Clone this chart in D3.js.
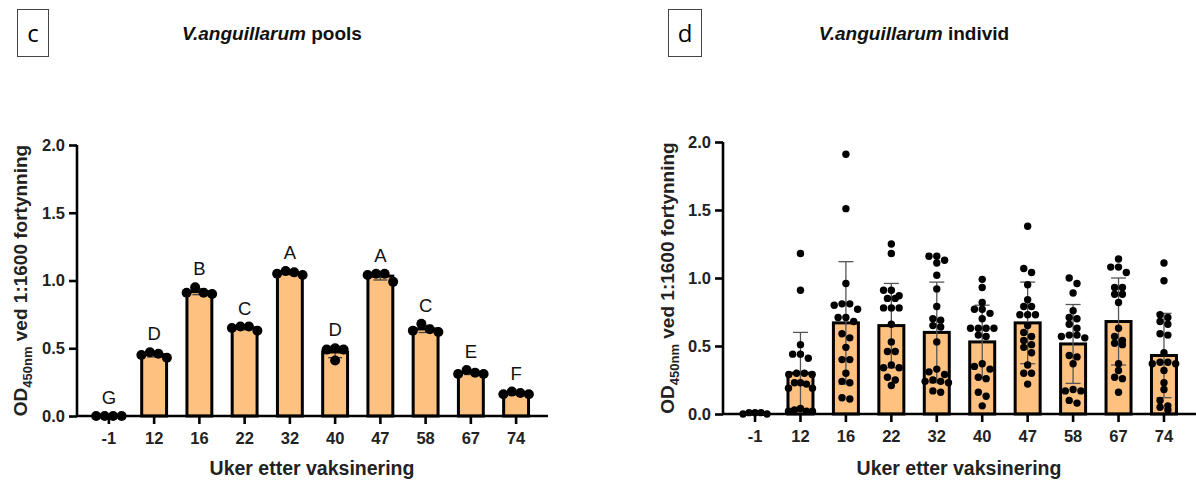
<!DOCTYPE html>
<html>
<head>
<meta charset="utf-8">
<script src="https://cdn.jsdelivr.net/npm/d3@7"></script>
<style>
  html, body { margin: 0; padding: 0; background: #fff; }
  svg { display: block; font-family: "Liberation Sans", Arial, sans-serif; }
</style>
</head>
<body>
<svg id="chart" width="1196" height="480"></svg>
<script>
// ---------------- DATA ----------------
const categories = ["-1", "12", "16", "22", "32", "40", "47", "58", "67", "74"];
const yTicks = [0, 0.5, 1.0, 1.5, 2.0];

// panel c: pooled samples (replicates) and significance letters
const poolLetters = ["G", "D", "B", "C", "A", "D", "A", "C", "E", "F"];
const poolValues = [
  [0.00, 0.00, 0.00, 0.00],
  [0.43, 0.45, 0.47, 0.46],
  [0.90, 0.91, 0.95, 0.91],
  [0.63, 0.65, 0.66, 0.66],
  [1.04, 1.07, 1.06, 1.05],
  [0.50, 0.49, 0.49, 0.41],
  [0.99, 1.04, 1.05, 1.05],
  [0.62, 0.68, 0.64, 0.63],
  [0.31, 0.34, 0.32, 0.31],
  [0.16, 0.18, 0.17, 0.16]
];

// panel d: individual fish
const indivValues = [
  [0.01, 0.00, 0.01, 0.00, 0.01],
  [1.18, 0.91, 0.51, 0.44, 0.44, 0.41, 0.30, 0.30, 0.29, 0.29, 0.23, 0.23, 0.22, 0.19, 0.19, 0.04, 0.03, 0.02, 0.02, 0.02],
  [1.91, 1.51, 0.96, 0.81, 0.81, 0.80, 0.77, 0.71, 0.71, 0.68, 0.59, 0.56, 0.49, 0.40, 0.40, 0.30, 0.24, 0.23, 0.12, 0.11],
  [1.25, 1.18, 0.91, 0.91, 0.87, 0.85, 0.85, 0.78, 0.78, 0.78, 0.66, 0.53, 0.46, 0.46, 0.36, 0.34, 0.34, 0.27, 0.25, 0.21],
  [1.16, 1.16, 1.13, 1.11, 1.02, 0.92, 0.79, 0.70, 0.69, 0.65, 0.64, 0.53, 0.31, 0.33, 0.29, 0.25, 0.24, 0.23, 0.24, 0.17, 0.16],
  [0.99, 0.93, 0.82, 0.77, 0.77, 0.74, 0.70, 0.63, 0.63, 0.63, 0.63, 0.57, 0.58, 0.37, 0.35, 0.33, 0.27, 0.26, 0.16, 0.13, 0.06],
  [1.38, 1.07, 1.04, 0.95, 0.84, 0.79, 0.79, 0.73, 0.73, 0.73, 0.65, 0.60, 0.57, 0.54, 0.51, 0.49, 0.45, 0.36, 0.30, 0.30, 0.22],
  [1.00, 0.96, 0.89, 0.76, 0.71, 0.70, 0.66, 0.63, 0.57, 0.56, 0.58, 0.58, 0.43, 0.42, 0.37, 0.18, 0.17, 0.17, 0.08, 0.10],
  [1.14, 1.08, 1.08, 1.04, 0.93, 0.93, 0.88, 0.88, 0.82, 0.63, 0.57, 0.54, 0.52, 0.51, 0.37, 0.32, 0.26, 0.27, 0.16],
  [1.11, 0.98, 0.73, 0.71, 0.66, 0.68, 0.59, 0.58, 0.45, 0.38, 0.37, 0.37, 0.38, 0.32, 0.23, 0.18, 0.10, 0.06, 0.05, 0.03]
];
const indivMean = [0.005, 0.30, 0.67, 0.65, 0.60, 0.53, 0.67, 0.515, 0.68, 0.43];
const indivSD   = [0.005, 0.30, 0.45, 0.31, 0.37, 0.27, 0.30, 0.29, 0.32, 0.31];

// ---------------- DRAWING ----------------
const svg = d3.select("#chart");
const FILL = "#FEC180";
const FONT = '"Liberation Sans", Arial, sans-serif';

// GraphPad-like scatter: points close in y form a row, spread symmetrically,
// highest values of a row in the middle
function swarm(vals, cx, y, spacing, rowGap, maxWidth) {
  const pts = vals.map(v => ({ v, py: y(v) })).sort((a, b) => a.py - b.py);
  const rows = [];
  pts.forEach(p => {
    const last = rows[rows.length - 1];
    if (last && p.py - last[0].py < rowGap) last.push(p);
    else rows.push([p]);
  });
  const out = [];
  rows.forEach(row => {
    const n = row.length;
    const sp = n > 1 ? Math.min(spacing, maxWidth / (n - 1)) : 0;
    const slots = d3.range(n).map(j => (j - (n - 1) / 2) * sp)
      .sort((a, b) => Math.abs(a) - Math.abs(b) || a - b);
    row.forEach((p, j) => out.push({ x: cx + slots[j], y: p.py }));
  });
  return out;
}

function panel(opt) {
  const g = svg.append("g");
  const x = d3.scaleBand().domain(categories).range(opt.xRange)
    .paddingInner(0.45).paddingOuter(0.43);
  const y = d3.scaleLinear().domain([0, 2]).range(opt.yRange);

  // bars
  g.append("g").selectAll("rect").data(categories).join("rect")
    .attr("x", d => x(d))
    .attr("width", x.bandwidth())
    .attr("y", (d, i) => y(opt.means[i]))
    .attr("height", (d, i) => y(0) - y(opt.means[i]))
    .attr("fill", FILL)
    .attr("stroke", "#000")
    .attr("stroke-width", 3);

  // error bars
  const eb = g.append("g").attr("stroke", opt.ebColor).attr("stroke-width", 1.3).attr("fill", "none");
  categories.forEach((c, i) => {
    const cx = x(c) + x.bandwidth() / 2;
    const hi = y(opt.means[i] + opt.sds[i]);
    const lo = y(Math.max(0, opt.means[i] - opt.sds[i]));
    eb.append("line").attr("x1", cx).attr("x2", cx).attr("y1", hi).attr("y2", lo);
    eb.append("line").attr("x1", cx - opt.cap).attr("x2", cx + opt.cap).attr("y1", hi).attr("y2", hi);
    eb.append("line").attr("x1", cx - opt.cap).attr("x2", cx + opt.cap).attr("y1", lo).attr("y2", lo);
  });

  // axes
  const yAxis = d3.axisLeft(y).tickValues(yTicks).tickFormat(d3.format(".1f")).tickSize(8).tickPadding(4);
  const ya = g.append("g").attr("transform", `translate(${opt.xRange[0]},0)`).call(yAxis);
  const xAxis = d3.axisBottom(x).tickSize(8).tickPadding(8);
  const xa = g.append("g").attr("transform", `translate(0,${y(0)})`).call(xAxis);
  [ya, xa].forEach(a => {
    a.select(".domain").attr("stroke", "#000").attr("stroke-width", 2.6);
    a.selectAll(".tick line").attr("stroke", "#000").attr("stroke-width", 2.6);
    a.selectAll(".tick text").attr("font-family", FONT).attr("font-size", 16.5)
      .attr("font-weight", "bold").attr("fill", "#222");
  });
  ya.select(".domain").attr("d", `M0,${y(0)}V${y(2)}`);
  xa.select(".domain").attr("d", `M${opt.xRange[0]},0H${opt.xRange[1]}`);

  // dots
  const dots = g.append("g").attr("fill", "#000");
  categories.forEach((c, i) => {
    const cx = x(c) + x.bandwidth() / 2;
    swarm(opt.values[i], cx, y, opt.spacing, opt.rowGap, opt.maxWidth).forEach(p => {
      dots.append("circle").attr("cx", p.x).attr("cy", p.y).attr("r", opt.r);
    });
  });

  // letters
  if (opt.letters) {
    g.append("g").selectAll("text").data(categories).join("text")
      .attr("x", d => x(d) + x.bandwidth() / 2)
      .attr("y", (d, i) => y(d3.max(opt.values[i])) - 12)
      .attr("text-anchor", "middle")
      .attr("font-family", FONT).attr("font-size", 18.5).attr("fill", "#111")
      .text((d, i) => opt.letters[i]);
  }

  // y label
  const yl = g.append("text")
    .attr("transform", `translate(${opt.yLabelX},${(y(0) + y(2)) / 2}) rotate(-90)`)
    .attr("text-anchor", "middle")
    .attr("font-family", FONT).attr("font-size", 19).attr("font-weight", "bold").attr("fill", "#222");
  yl.append("tspan").text("OD");
  yl.append("tspan").attr("font-size", 13).attr("dy", 5).text("450nm");
  yl.append("tspan").attr("dy", -5).text(" ved 1:1600 fortynning");

  // x label
  g.append("text")
    .attr("x", opt.xLabelX).attr("y", 475)
    .attr("text-anchor", "middle")
    .attr("font-family", FONT).attr("font-size", 19.5).attr("font-weight", "bold").attr("fill", "#222")
    .text("Uker etter vaksinering");

  // title
  const t = g.append("text")
    .attr("x", opt.titleX).attr("y", 40)
    .attr("text-anchor", "middle")
    .attr("font-family", FONT).attr("font-size", opt.titleSize).attr("font-weight", "bold").attr("fill", "#111");
  t.append("tspan").attr("font-style", "italic").text("V.anguillarum");
  t.append("tspan").text(" " + opt.titleRest);

  // panel letter box
  g.append("rect").attr("x", opt.box[0]).attr("y", 9.5).attr("width", opt.box[1]).attr("height", 47)
    .attr("fill", "none").attr("stroke", "#444").attr("stroke-width", 1);
  g.append("text").attr("x", opt.box[0] + opt.box[1] / 2).attr("y", 42)
    .attr("text-anchor", "middle").attr("font-family", '"Open Sans", "Noto Sans", sans-serif')
    .attr("font-size", 24).attr("fill", "#000").text(opt.panelLetter);
}

panel({
  xRange: [77, 548], yRange: [416, 145],
  values: poolValues,
  means: poolValues.map(v => d3.mean(v)),
  sds: poolValues.map(v => d3.deviation(v)),
  ebColor: "#444", cap: 7, r: 5, spacing: 8.5, rowGap: 9, maxWidth: 27,
  letters: poolLetters,
  yLabelX: 27, xLabelX: 312, titleX: 272, titleRest: "pools", titleSize: 19,
  box: [17.5, 31], panelLetter: "c"
});

panel({
  xRange: [723, 1196], yRange: [414, 142],
  values: indivValues,
  means: indivMean,
  sds: indivSD,
  ebColor: "#555", cap: 7.5, r: 3.7, spacing: 7.8, rowGap: 6.5, maxWidth: 24,
  letters: null,
  yLabelX: 674, xLabelX: 959, titleX: 914, titleRest: "individ", titleSize: 19,
  box: [668.5, 33], panelLetter: "d"
});
</script>
</body>
</html>
